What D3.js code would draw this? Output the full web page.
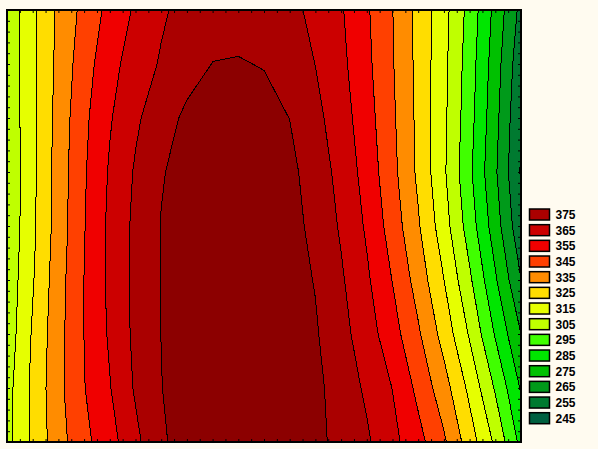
<!DOCTYPE html>
<html><head><meta charset="utf-8">
<script src="https://cdn.jsdelivr.net/npm/d3@7"></script>
<style>html,body{margin:0;padding:0;background:#fffbf0;}svg{display:block}</style>
</head><body>
<svg id="chart" width="598" height="449"></svg>
<script>
// contour levels (upper bounds of legend bands)
const levels = [245,255,265,275,285,295,305,315,325,335,345,355,365,375];
const legendLabels = ["375","365","355","345","335","325","315","305","295","285","275","265","255","245"];
// colour of each band: index 0 = below 245 ... 13 = 365-375, 14 = above 375
const bandColors = ["#006040","#007a30","#009a1a","#00c000","#00e600","#40ff00","#bfff00","#e6ff00",
                    "#ffdd00","#ff8c00","#ff4000","#f00000","#cc0000","#aa0000","#8c0000"];

// z grid: 9 rows (top to bottom) x 21 columns (left to right)
const zRow0 = [297,312.9,326.9,338.0,348.0,356.4,363.5,368.5,371.0,372.0,370.9,367.8,362.4,356.0,346.3,335.2,322.3,308.4,291.5,272.0,252];
const zRow1 = [297,312.9,327.7,340.6,351.7,359.7,366.0,371.0,375.2,375.5,374.6,369.3,364.9,357.5,347.4,335.7,322.3,307.6,289.9,269.8,248];
const zRow2 = [297,312.9,328.6,342.8,354.1,363.4,370.7,377.0,378.5,379.0,378.0,374.9,367.7,359.6,349.1,336.7,322.7,307.1,288.7,268.1,245.5];
const zRow3 = [296.5,312.8,329.4,343.9,356.1,366.1,374.4,378.0,379.5,380.0,379.5,377.5,370.3,361.9,351.1,337.9,323.1,306.5,287.0,266.4,244];
const zRow4 = [297,312.9,329.6,344.5,357.1,367.3,375.3,378.5,380.0,380.5,380.0,378.5,372.3,363.8,353.6,340.5,326.1,309.4,290.3,269.8,247.5];
const zRow5 = [298.1,314.2,330.9,345.1,357.2,367.6,375.3,379.0,380.5,381.0,380.5,379.0,374.5,366.3,356.6,344.7,330.8,315.1,296.7,276.3,255.2];
const zRow6 = [299,316.1,331.7,345.1,356.3,367.3,375.1,379.0,380.5,381.0,380.5,379.5,376.0,368.3,359.7,349.0,336.4,321.3,303.9,284.1,265];
const zRow7 = [301.3,317.2,332.3,344.6,354.5,366.2,374.8,379.0,380.5,381.0,380.5,379.5,377.5,370.4,363.4,354.8,342.5,329.2,312.6,293.9,274];
const zRow8 = [301.3,317.2,330.9,342.4,351.2,362.5,373.8,378.5,380.0,380.5,380.0,379.0,377.5,372.1,366.4,357.8,348.3,336.6,319.9,303.1,282];
const zRows = [zRow0,zRow1,zRow2,zRow3,zRow4,zRow5,zRow6,zRow7,zRow8];

const nx = zRows[0].length, ny = zRows.length;
const values = zRows.flat();

const svg = d3.select("#chart");
const plot = {left:7, top:10, right:521, bottom:442};

// grid sample i sits at contour coordinate i+0.5
const x = d3.scaleLinear().domain([0.5, nx-0.5]).range([plot.left, plot.right]);
const y = d3.scaleLinear().domain([0.5, ny-0.5]).range([plot.top, plot.bottom]);

svg.append("rect").attr("width",598).attr("height",449).attr("fill","#fffbf0");

svg.append("defs").append("clipPath").attr("id","clip")
  .append("rect").attr("x",plot.left).attr("y",plot.top)
  .attr("width",plot.right-plot.left).attr("height",plot.bottom-plot.top);

const g = svg.append("g").attr("clip-path","url(#clip)");
g.append("rect").attr("x",plot.left).attr("y",plot.top)
  .attr("width",plot.right-plot.left).attr("height",plot.bottom-plot.top)
  .attr("fill",bandColors[0]);

const contours = d3.contours().size([nx, ny]).thresholds(levels)(values);
const proj = d3.geoTransform({point: function(px, py){ this.stream.point(x(px), y(py)); }});
const path = d3.geoPath(proj);

g.selectAll("path.fill").data(contours).join("path").attr("class","fill")
  .attr("d", path).attr("fill",(d,i)=>bandColors[i+1]).attr("stroke","none");
g.selectAll("path.line").data(contours).join("path").attr("class","line")
  .attr("d", path).attr("fill","none").attr("stroke","#000").attr("stroke-width",1)
  .attr("shape-rendering","crispEdges");

// tick marks inside the frame
const xt = d3.scaleLinear().domain([0,40]).range([plot.left, plot.right]);
const yt = d3.scaleLinear().domain([0,40]).range([plot.bottom, plot.top]);
const tickIdx = d3.range(0,41);
svg.append("g").attr("transform",`translate(0,${plot.bottom})`)
  .call(d3.axisBottom(xt).tickValues(tickIdx).tickSize(-3).tickFormat("")).call(s=>s.select(".domain").remove());
svg.append("g").attr("transform",`translate(0,${plot.top})`)
  .call(d3.axisTop(xt).tickValues(tickIdx).tickSize(-3).tickFormat("")).call(s=>s.select(".domain").remove());
svg.append("g").attr("transform",`translate(${plot.left},0)`)
  .call(d3.axisLeft(yt).tickValues(tickIdx).tickSize(-3).tickFormat("")).call(s=>s.select(".domain").remove());
svg.append("g").attr("transform",`translate(${plot.right},0)`)
  .call(d3.axisRight(yt).tickValues(tickIdx).tickSize(-3).tickFormat("")).call(s=>s.select(".domain").remove());

svg.append("rect").attr("x",plot.left).attr("y",plot.top)
  .attr("width",plot.right-plot.left).attr("height",plot.bottom-plot.top)
  .attr("fill","none").attr("stroke","#000").attr("stroke-width",2);

// legend
const legColor = d3.scaleOrdinal().domain(legendLabels)
  .range(legendLabels.map(l => bandColors[levels.indexOf(+l)]));
const ly = d3.scaleBand().domain(legendLabels).range([209, 209+15.67*14]);
const leg = svg.append("g");
const items = leg.selectAll("g").data(legendLabels).join("g")
  .attr("transform", d=>`translate(529.5,${ly(d)})`);
items.append("rect").attr("width",20).attr("height",11)
  .attr("fill", d=>legColor(d)).attr("stroke","#000").attr("stroke-width",1.5);
items.append("text").attr("x",26).attr("y",10).text(d=>d)
  .attr("font-family","Liberation Sans, Arial, sans-serif").attr("font-weight","bold")
  .attr("font-size",12).attr("fill","#000");
</script>
</body></html>
